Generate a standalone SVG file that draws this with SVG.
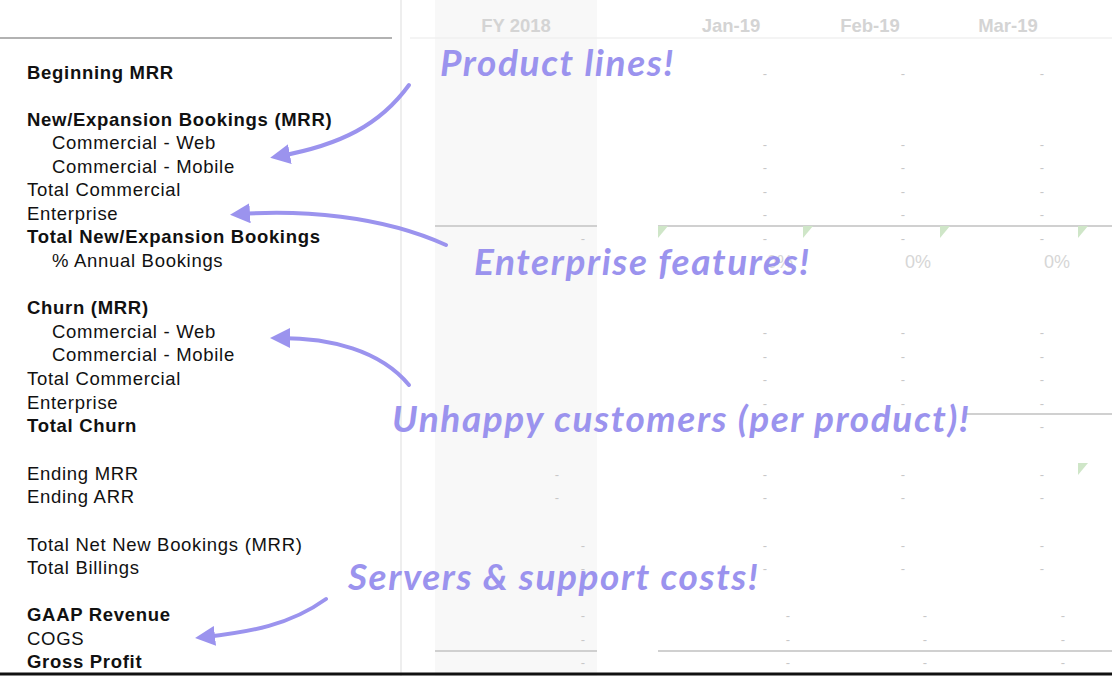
<svg xmlns="http://www.w3.org/2000/svg" width="1112" height="676" viewBox="0 0 1112 676">
<style>
.l{font-family:"Liberation Sans",Arial,sans-serif;font-size:18.5px;letter-spacing:0.7px;fill:#111}
.b{font-weight:bold}
.h{font-family:"Liberation Sans",Arial,sans-serif;font-size:18.5px;font-weight:bold;fill:#d4d4d4;text-anchor:middle}
.d{font-family:"Liberation Sans",Arial,sans-serif;font-size:13px;fill:#c8c8c8;text-anchor:middle}
.p{font-family:"Liberation Sans",Arial,sans-serif;font-size:18px;fill:#d6d6d6;text-anchor:middle}
.a{font-family:Lato,"Open Sans",sans-serif;font-size:37px;letter-spacing:1.6px;font-weight:bold;font-style:italic;fill:#9b93ee}
.g{fill:#cfe6c8}
.c{fill:none;stroke:#9b93ee;stroke-width:4;stroke-linecap:round}
</style>
<defs><marker id="ah" viewBox="0 0 10 10" refX="5" refY="5" markerWidth="5" markerHeight="5" orient="auto"><path d="M0,0L10,5L0,10z" fill="#9b93ee"/></marker></defs>
<rect width="1112" height="676" fill="#fff"/>
<rect x="435" y="0" width="162" height="676" fill="#f8f8f8"/>
<line x1="401" y1="0" x2="401" y2="676" stroke="#eeeeee" stroke-width="2"/>
<line x1="0" y1="38" x2="392" y2="38" stroke="#999" stroke-width="1.5"/>
<line x1="410" y1="38" x2="1112" y2="38" stroke="#f0f0f0" stroke-width="1.5"/>
<g stroke="#d0d0d0" stroke-width="2">
<line x1="435" y1="226" x2="597" y2="226"/><line x1="658" y1="226" x2="1112" y2="226"/>
<line x1="965" y1="414" x2="1112" y2="414"/>
<line x1="435" y1="651" x2="597" y2="651"/><line x1="658" y1="651" x2="1112" y2="651"/>
</g>
<line x1="0" y1="674" x2="1112" y2="674" stroke="#111" stroke-width="3"/>
<g id="headers">
<text class="h" x="516" y="32">FY 2018</text><text class="h" x="731" y="32">Jan-19</text><text class="h" x="870" y="32">Feb-19</text><text class="h" x="1008" y="32">Mar-19</text>
</g>
<g id="cells">
<g class="g"><path d="M658,226h10l-10,12z"/><path d="M803,226h10l-10,12z"/><path d="M940,226h10l-10,12z"/><path d="M1078,226h10l-10,12z"/><path d="M1078,463h10l-10,12z"/></g>
<g class="d">
<text x="765" y="78">-</text><text x="903" y="78">-</text><text x="1042" y="78">-</text>
<text x="765" y="149">-</text><text x="903" y="149">-</text><text x="1042" y="149">-</text>
<text x="765" y="172">-</text><text x="903" y="172">-</text><text x="1042" y="172">-</text>
<text x="765" y="196">-</text><text x="903" y="196">-</text><text x="1042" y="196">-</text>
<text x="765" y="219">-</text><text x="903" y="219">-</text><text x="1042" y="219">-</text>
<text x="583" y="243">-</text><text x="765" y="243">-</text><text x="903" y="243">-</text><text x="1042" y="243">-</text>
<text x="765" y="337">-</text><text x="903" y="337">-</text><text x="1042" y="337">-</text>
<text x="765" y="361">-</text><text x="903" y="361">-</text><text x="1042" y="361">-</text>
<text x="765" y="384">-</text><text x="903" y="384">-</text><text x="1042" y="384">-</text>
<text x="765" y="408">-</text><text x="903" y="408">-</text><text x="1042" y="408">-</text>
<text x="1042" y="431">-</text>
<text x="557" y="479">-</text><text x="765" y="479">-</text><text x="903" y="479">-</text><text x="1042" y="479">-</text>
<text x="557" y="502">-</text><text x="765" y="502">-</text><text x="903" y="502">-</text><text x="1042" y="502">-</text>
<text x="583" y="550">-</text><text x="765" y="550">-</text><text x="903" y="550">-</text><text x="1042" y="550">-</text>
<text x="583" y="573">-</text><text x="765" y="573">-</text><text x="903" y="573">-</text><text x="1042" y="573">-</text>
<text x="583" y="620">-</text><text x="788" y="620">-</text><text x="925" y="620">-</text><text x="1063" y="620">-</text>
<text x="583" y="644">-</text><text x="788" y="644">-</text><text x="925" y="644">-</text><text x="1063" y="644">-</text>
<text x="583" y="667">-</text><text x="788" y="667">-</text><text x="925" y="667">-</text><text x="1063" y="667">-</text>
</g>
<g class="p"><text x="780" y="268">0%</text><text x="918" y="268">0%</text><text x="1057" y="268">0%</text></g>
</g>
<g id="labels">
<text class="l b" x="27" y="79">Beginning MRR</text>
<text class="l b" x="27" y="126">New/Expansion Bookings (MRR)</text>
<text class="l" x="52" y="149">Commercial - Web</text>
<text class="l" x="52" y="173">Commercial - Mobile</text>
<text class="l" x="27" y="196">Total Commercial</text>
<text class="l" x="27" y="220">Enterprise</text>
<text class="l b" x="27" y="243">Total New/Expansion Bookings</text>
<text class="l" x="52" y="267">% Annual Bookings</text>
<text class="l b" x="27" y="314">Churn (MRR)</text>
<text class="l" x="52" y="338">Commercial - Web</text>
<text class="l" x="52" y="361">Commercial - Mobile</text>
<text class="l" x="27" y="385">Total Commercial</text>
<text class="l" x="27" y="409">Enterprise</text>
<text class="l b" x="27" y="432">Total Churn</text>
<text class="l" x="27" y="480">Ending MRR</text>
<text class="l" x="27" y="503">Ending ARR</text>
<text class="l" x="27" y="551">Total Net New Bookings (MRR)</text>
<text class="l" x="27" y="574">Total Billings</text>
<text class="l b" x="27" y="621">GAAP Revenue</text>
<text class="l" x="27" y="645">COGS</text>
<text class="l b" x="27" y="668">Gross Profit</text>
</g>
<g id="annotations">
<text class="a" x="440" y="76">Product lines!</text>
<text class="a" x="474" y="275">Enterprise features!</text>
<text class="a" x="392" y="432">Unhappy customers (per product)!</text>
<text class="a" x="348" y="590">Servers &amp; support costs!</text>
</g>
<g id="connectors">
<path class="c" marker-end="url(#ah)" d="M409,85C380,125 340,145 280,156"/>
<path class="c" marker-end="url(#ah)" d="M446,245C380,215 300,210 240,214"/>
<path class="c" marker-end="url(#ah)" d="M409,385C380,350 330,338 280,338"/>
<path class="c" marker-end="url(#ah)" d="M326,599C290,625 250,632 205,637"/>
</g>
</svg>
